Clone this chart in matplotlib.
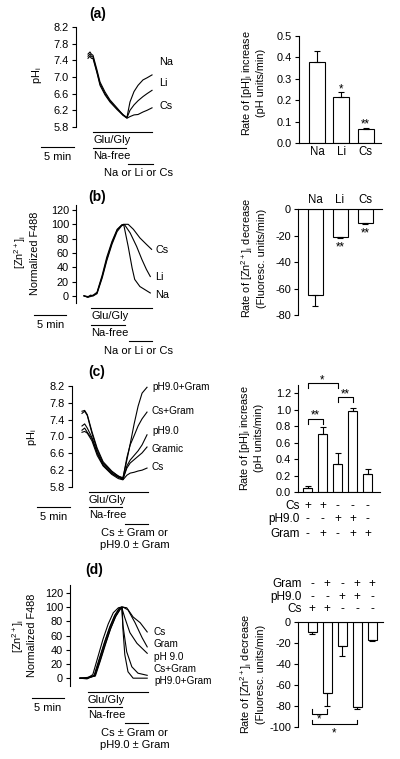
import matplotlib
matplotlib.use("Agg")
import matplotlib.pyplot as plt
import matplotlib.transforms as mtransforms
from matplotlib.ticker import FormatStrFormatter

# ---- panel (a): pHi traces (time in min) ----
a_time = [0, 0.3, 0.5, 0.76, 1.36, 1.82, 2.58, 3.33, 4.39, 5.3, 5.9, 6.36, 6.97, 7.58, 8.33, 8.94, 9.7]
a_na = [7.55, 7.6, 7.55, 7.52, 7.17, 6.88, 6.64, 6.45, 6.26, 6.09, 6.03, 6.4, 6.65, 6.8, 6.93, 6.98, 7.05]
a_li = [7.5, 7.55, 7.5, 7.48, 7.12, 6.84, 6.6, 6.42, 6.24, 6.1, 6.02, 6.2, 6.33, 6.43, 6.53, 6.6, 6.68]
a_cs = [7.45, 7.5, 7.45, 7.44, 7.1, 6.8, 6.57, 6.4, 6.22, 6.08, 6.01, 6.05, 6.09, 6.1, 6.16, 6.2, 6.26]
a_cats = ['Na', 'Li', 'Cs']
a_rate = [0.379, 0.216, 0.064]
a_err = [0.05, 0.023, 0.004]

# ---- panel (b): Zn traces ----
b_na_t = [0, 0.6, 1.0, 1.4, 2.0, 2.8, 3.5, 4.3, 5.1, 5.8, 6.1, 6.8, 7.4, 7.8, 8.6, 10.2]
b_na = [0, -2, 1, 0, 4, 27, 51, 74, 92, 99, 100, 69, 39, 23, 13, 4]
b_li_t = [0, 0.6, 1.0, 1.4, 2.0, 2.8, 3.5, 4.3, 5.1, 5.8, 6.2, 7.1, 8.1, 8.9, 9.6, 10.2]
b_li = [0, -1, 0, 1, 5, 29, 54, 76, 93, 99, 100, 88, 69, 51, 37, 27]
b_cs_t = [0, 0.6, 1.0, 1.4, 2.0, 2.8, 3.5, 4.3, 5.1, 5.8, 6.3, 6.8, 7.6, 8.6, 9.6, 10.4]
b_cs = [0, -2, -1, 0, 3, 25, 49, 72, 90, 98, 100, 100, 93, 81, 72, 65]
b_cats = ['Na', 'Li', 'Cs']
b_rate = [-65, -20.8, -10.3]
b_err = [8.2, 1.0, 1.2]

# ---- panel (c): pHi traces with gramicidin / pH9.0 ----
c_time = [0, 0.4, 0.8, 1.5, 2.3, 3.2, 4.5, 5.5, 6.2, 6.8, 7.3, 7.9, 8.5, 9.1, 9.85]
c_ph9_gram = [7.55, 7.6, 7.5, 7.08, 6.68, 6.37, 6.16, 6.06, 6.02, 6.44, 6.82, 7.3, 7.72, 8.03, 8.17]
c_cs_gram = [7.6, 7.62, 7.52, 7.12, 6.72, 6.4, 6.18, 6.06, 6.0, 6.5, 6.8, 7.02, 7.25, 7.42, 7.58]
c_ph9 = [7.15, 7.2, 7.1, 6.95, 6.6, 6.32, 6.12, 6.03, 5.98, 6.3, 6.44, 6.55, 6.66, 6.8, 7.04]
c_gram = [7.25, 7.3, 7.2, 6.98, 6.62, 6.33, 6.13, 6.04, 5.99, 6.25, 6.37, 6.45, 6.53, 6.61, 6.75]
c_cs = [7.1, 7.12, 7.08, 6.9, 6.55, 6.3, 6.1, 6.0, 5.97, 6.08, 6.13, 6.15, 6.18, 6.2, 6.25]
c_rate = [0.053, 0.71, 0.346, 0.989, 0.224]
c_err = [0.017, 0.075, 0.122, 0.028, 0.053]
c_row_cs = ['+', '+', '-', '-', '-']
c_row_ph = ['-', '-', '+', '+', '-']
c_row_gram = ['-', '+', '-', '+', '+']

# ---- panel (d): Zn traces with gramicidin / pH9.0 ----
d_cs_t = [0, 1.1, 2.3, 3.1, 3.9, 4.7, 5.5, 6.25, 6.6, 7.3, 8.3, 9.4, 10.5]
d_cs = [0, 0, 3, 24, 47, 68, 86, 97, 100, 99, 86, 78, 65]
d_gram_t = [0, 1.1, 2.3, 3.1, 3.9, 4.7, 5.5, 6.25, 6.7, 7.5, 8.6, 9.7, 10.5]
d_gram = [0, -1, 4, 28, 51, 72, 89, 99, 100, 96, 78, 57, 44]
d_ph9_t = [0, 1.1, 2.0, 2.8, 3.6, 4.4, 5.2, 6.0, 6.5, 7.0, 7.8, 8.9, 10.5]
d_ph9 = [0, 0, 5, 30, 55, 76, 92, 99, 100, 85, 64, 49, 35]
d_cs_gram_t = [0, 1.1, 2.2, 3.0, 3.8, 4.6, 5.4, 6.1, 6.5, 6.7, 7.3, 8.1, 9.06, 10.5]
d_cs_gram = [0, 0, 4, 27, 50, 71, 88, 98, 100, 75, 37, 16, 7, 4]
d_ph9_gram_t = [0, 1.1, 2.4, 3.2, 4.0, 4.8, 5.6, 6.3, 6.6, 6.7, 7.0, 7.5, 8.3, 10.5]
d_ph9_gram = [0, 1, 3, 25, 48, 70, 87, 97, 100, 70, 33, 9, 0, 0]
d_rate = [-9.5, -67.8, -23, -81, -16.7]
d_err = [1.5, 12.2, 9, 2, 1.6]
d_row_gram = ['-', '+', '-', '+', '+']
d_row_ph = ['-', '-', '+', '+', '-']
d_row_cs = ['+', '+', '-', '-', '-']

plt.rcParams['font.family'] = ['Liberation Sans', 'DejaVu Sans']
plt.rcParams['mathtext.default'] = 'regular'
plt.rcParams['axes.unicode_minus'] = False
plt.rcParams['font.size'] = 7.9
plt.rcParams['axes.linewidth'] = 0.8
plt.rcParams['xtick.major.width'] = 0.8
plt.rcParams['ytick.major.width'] = 0.8
plt.rcParams['xtick.major.size'] = 3
plt.rcParams['ytick.major.size'] = 3
plt.rcParams['ytick.major.pad'] = 2

W, H = 400, 759
fig = plt.figure(figsize=(W / 100, H / 100), dpi=100)
# reference pixel coordinates (origin top-left)
PX = mtransforms.Affine2D().scale(1 / W, -1 / H).translate(0, 1) + fig.transFigure
LW = 0.8
FS_TXT = 8.0     # protocol text
FS_YLAB = 7.8


def add_ax(x0, y0, x1, y1):
    return fig.add_axes([x0 / W, 1 - y1 / H, (x1 - x0) / W, (y1 - y0) / H])


def trace_axes(yax, top, bottom, origin, ppm, ylim, yticks, fmt=None):
    ax = add_ax(yax, top, 200, bottom)
    ax.set_xlim((yax - origin) / ppm, (200 - origin) / ppm)
    ax.set_ylim(*ylim)
    ax.set_yticks(yticks)
    if fmt:
        ax.yaxis.set_major_formatter(FormatStrFormatter(fmt))
    for s in ['top', 'right', 'bottom']:
        ax.spines[s].set_visible(False)
    ax.set_xticks([])
    ax.patch.set_visible(False)
    return ax


def hbar(ax, y, t0, t1):
    tr = mtransforms.blended_transform_factory(ax.transData, PX)
    ax.plot([t0, t1], [y, y], color='k', lw=LW, transform=tr, clip_on=False)


def htext(ax, t, y, s, ha='left'):
    tr = mtransforms.blended_transform_factory(ax.transData, PX)
    ax.text(t, y, s, transform=tr, ha=ha, va='center', fontsize=FS_TXT)


def protocol(ax, ys, glu, nafree, wash, wash_label, scale):
    hbar(ax, ys[0], *glu)
    htext(ax, glu[0], ys[0] + 8, 'Glu/Gly')
    hbar(ax, ys[1], *nafree)
    htext(ax, nafree[0], ys[1] + 8, 'Na-free')
    hbar(ax, ys[2], *wash)
    for k, line in enumerate(wash_label):
        htext(ax, (wash[0] + wash[1]) / 2 - 0.3, ys[2] + 9.5 + 12 * k, line, ha='center')
    hbar(ax, scale[1], scale[0], scale[0] + 5)
    htext(ax, scale[0] + 2.5, scale[1] + 10, '5 min', ha='center')


def bar_axes(x0, x1, top, bottom, first, step, ylim, yticks, fmt=None, top_axis=False):
    ax = add_ax(x0, top, x1, bottom)
    ax.set_xlim((x0 - first) / step, (x1 - first) / step)
    ax.set_ylim(*ylim)
    ax.set_yticks(yticks)
    if fmt:
        ax.yaxis.set_major_formatter(FormatStrFormatter(fmt))
    ax.spines['right'].set_visible(False)
    if top_axis:
        ax.spines['bottom'].set_visible(False)
        ax.xaxis.tick_top()
    else:
        ax.spines['top'].set_visible(False)
    ax.tick_params(axis='x', length=0, pad=2)
    ax.patch.set_visible(False)
    return ax


def bars(ax, vals, errs, width, negative=False):
    x = list(range(len(vals)))
    zeros = [0] * len(vals)
    yerr = [errs, zeros] if negative else [zeros, errs]
    ax.bar(x, vals, width, color='white', edgecolor='k', linewidth=LW,
           yerr=yerr, capsize=2, error_kw=dict(elinewidth=LW, capthick=LW), zorder=2)
    return x


def bracket(ax, i, j, y, tick, label, ly):
    ax.plot([i, i, j, j], [y + tick, y, y, y + tick], color='k', lw=LW, clip_on=False)
    ax.text((i + j) / 2, ly, label, ha='center', va='center', fontsize=8.3)


def table_rows(ax, x_label, rows, ys):
    tr = mtransforms.blended_transform_factory(ax.transData, PX)
    for (name, signs), y in zip(rows, ys):
        ax.text(x_label, y, name, transform=tr, ha='right', va='center', fontsize=8.5)
        for k, s in enumerate(signs):
            ax.text(k, y, s, transform=tr, ha='center', va='center', fontsize=8.5)


def ftext(x, y, s, **kw):
    kw.setdefault('ha', 'center')
    kw.setdefault('va', 'center')
    kw.setdefault('fontsize', FS_YLAB)
    fig.text(x, y, s, transform=PX, **kw)


# ================= (a) =================
ftext(98, 14, '(a)', fontsize=10, fontweight='bold')
ax = trace_axes(76, 27, 127, 88, 6.6, (5.8, 8.2), [5.8, 6.2, 6.6, 7.0, 7.4, 7.8, 8.2], '%.1f')
for y in (a_na, a_li, a_cs):
    ax.plot(a_time, y, color='k', lw=LW, clip_on=False)
for name, yp in zip(['Na', 'Li', 'Cs'], [62, 83, 106]):
    ftext(159, yp, name, ha='left', fontsize=7.8)
ftext(37, 75, 'pH$_i$', rotation=90)
protocol(ax, [132, 148, 164], (0.76, 9.7), (0.76, 5.76), (6.06, 9.85), ['Na or Li or Cs'], (-7.1, 147))

ax = bar_axes(299, 381, 36, 143, 317, 24.4, (0, 0.5), [0, 0.1, 0.2, 0.3, 0.4, 0.5], '%.1f')
x = bars(ax, a_rate, a_err, 0.66)
ax.set_xticks(x)
ax.set_xticklabels(a_cats, fontsize=8.3)
ax.text(1, 0.25, '*', ha='center', va='center', fontsize=8.3)
ax.text(2, 0.085, '**', ha='center', va='center', fontsize=8.3)
ftext(253, 83, 'Rate of [pH]$_i$ increase\n(pH units/min)', rotation=90, linespacing=1.3)

# ================= (b) =================
ftext(97, 197, '(b)', fontsize=10, fontweight='bold')
ax = trace_axes(76, 205, 303, 84, 6.5, (-10, 127), [0, 20, 40, 60, 80, 100, 120])
for t, y in ((b_na_t, b_na), (b_li_t, b_li), (b_cs_t, b_cs)):
    ax.plot(t, y, color='k', lw=LW, clip_on=False)
for name, yp in zip(['Cs', 'Li', 'Na'], [250, 277, 295]):
    ftext(155, yp, name, ha='left', fontsize=7.8)
ftext(20, 252, '[Zn$^{2+}$]$_i$', rotation=90)
ftext(35, 253, 'Normalized F488', rotation=90)
protocol(ax, [308, 325, 341], (1.08, 10.46), (1.08, 6.3), (6.9, 10.46), ['Na or Li or Cs'], (-7.7, 315))

ax = bar_axes(298, 382, 209, 315, 315, 25, (-80, 0), [0, -20, -40, -60, -80], top_axis=True)
x = bars(ax, b_rate, b_err, 0.6, negative=True)
ax.set_xticks(x)
ax.set_xticklabels(b_cats, fontsize=8.3)
ax.text(1, -29, '**', ha='center', va='center', fontsize=8.3)
ax.text(2, -18.5, '**', ha='center', va='center', fontsize=8.3)
ftext(253, 258, 'Rate of [Zn$^{2+}$]$_i$ decrease\n(Fluoresc. units/min)', rotation=90, linespacing=1.3)

# ================= (c) =================
ftext(97, 372, '(c)', fontsize=10, fontweight='bold')
ax = trace_axes(72, 386, 487, 82, 6.6, (5.8, 8.2), [5.8, 6.2, 6.6, 7.0, 7.4, 7.8, 8.2], '%.1f')
for y in (c_ph9_gram, c_cs_gram, c_ph9, c_gram, c_cs):
    ax.plot(c_time, y, color='k', lw=LW, clip_on=False)
for name, yp in zip(['pH9.0+Gram', 'Cs+Gram', 'pH9.0', 'Gramic', 'Cs'], [387, 411, 431, 449, 467]):
    ftext(152, yp, name, ha='left', fontsize=7.2)
ftext(32, 437, 'pH$_i$', rotation=90)
protocol(ax, [492, 507, 524], (1.06, 10.0), (1.06, 6.06), (6.5, 10.0),
         ['Cs \u00b1 Gram or', 'pH9.0 \u00b1 Gram'], (-6.8, 507))

ax = bar_axes(298, 380, 385, 492, 307.5, 15, (0, 1.3), [0, 0.2, 0.4, 0.6, 0.8, 1.0, 1.2], '%.1f')
bars(ax, c_rate, c_err, 0.57)
ax.set_xticks([])
bracket(ax, 0, 1, 0.885, -0.055, '**', 0.93)
bracket(ax, 2, 3, 1.15, -0.055, '**', 1.19)
bracket(ax, 0, 2, 1.32, -0.055, '*', 1.355)
table_rows(ax, -0.5, [('Cs', c_row_cs), ('pH9.0', c_row_ph), ('Gram', c_row_gram)], [506, 519, 534])
ftext(251, 438, 'Rate of [pH]$_i$ increase\n(pH units/min)', rotation=90, linespacing=1.3)

# ================= (d) =================
ftext(94, 570, '(d)', fontsize=10, fontweight='bold')
ax = trace_axes(70, 585, 686, 80, 6.4, (-11, 131), [0, 20, 40, 60, 80, 100, 120])
for t, y in ((d_cs_t, d_cs), (d_gram_t, d_gram), (d_ph9_t, d_ph9),
             (d_cs_gram_t, d_cs_gram), (d_ph9_gram_t, d_ph9_gram)):
    ax.plot(t, y, color='k', lw=LW, clip_on=False)
for name, yp in zip(['Cs', 'Gram', 'pH 9.0', 'Cs+Gram', 'pH9.0+Gram'], [632, 644, 657, 669, 681]):
    ftext(154, yp, name, ha='left', fontsize=7.2)
ftext(18, 636, '[Zn$^{2+}$]$_i$', rotation=90)
ftext(32, 635, 'Normalized F488', rotation=90)
protocol(ax, [692, 707, 723], (1.25, 10.6), (1.25, 6.56), (7.0, 10.6),
         ['Cs \u00b1 Gram or', 'pH9.0 \u00b1 Gram'], (-7.5, 698))

ax = bar_axes(298, 383, 622, 727, 312, 15, (-100, 0), [0, -20, -40, -60, -80, -100], top_axis=True)
bars(ax, d_rate, d_err, 0.6, negative=True)
ax.set_xticks([])
bracket(ax, 0, 1, -88, 5, '*', -93)
bracket(ax, 0, 3, -97, 4, '*', -106)
table_rows(ax, -0.67, [('Gram', d_row_gram), ('pH9.0', d_row_ph), ('Cs', d_row_cs)], [584, 597, 609])
ftext(252, 674, 'Rate of [Zn$^{2+}$]$_i$ decrease\n(Fluoresc. units/min)', rotation=90, linespacing=1.3)

fig.savefig('out.png', dpi=100)
